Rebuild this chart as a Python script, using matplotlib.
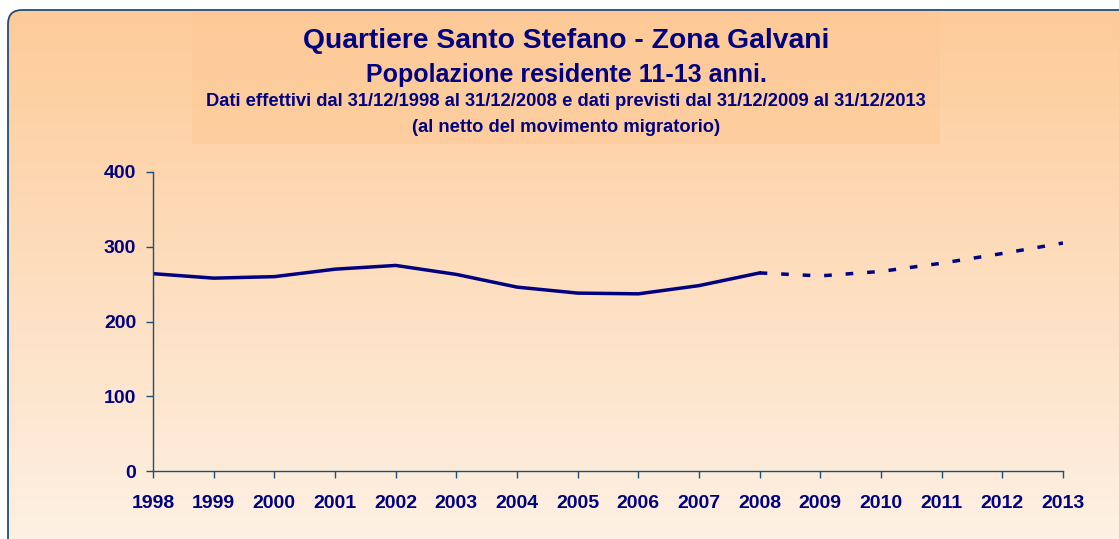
import numpy as np
import matplotlib.pyplot as plt
from matplotlib.patches import FancyBboxPatch, Rectangle

plt.rcParams['font.family'] = ['Liberation Sans', 'DejaVu Sans']

# dati effettivi e previsti
anni_eff = [1998, 1999, 2000, 2001, 2002, 2003, 2004, 2005, 2006, 2007, 2008]
pop_eff = [264, 258, 260, 270, 275, 263, 246, 238, 237, 248, 265]
anni_prev = [2008, 2009, 2010, 2011, 2012, 2013]
pop_prev = [265, 261, 267, 278, 291, 305]
yticks = [0, 100, 200, 300, 400]

navy = '#000080'
bordo = '#1F4E79'

fig = plt.figure(figsize=(11.19, 5.39), dpi=100)

# sfondo con sfumatura
bg = fig.add_axes([0, 0, 1, 1])
bg.set_xlim(0, 1119)
bg.set_ylim(539, 0)
bg.axis('off')
grad = np.linspace(0, 1, 256).reshape(-1, 1)
top = np.array([253, 203, 152]) / 255
bot = np.array([254, 241, 229]) / 255
img = top + grad[..., None] * (bot - top)
img = img.reshape(256, 1, 3)
im = bg.imshow(img, extent=[8, 1130, 545, 10], aspect='auto', zorder=0)
box = FancyBboxPatch((8, 10), 1140, 560, boxstyle='round,pad=0,rounding_size=14',
                     facecolor='none', edgecolor=bordo, lw=1.3, zorder=2)
bg.add_patch(box)
im.set_clip_path(box)
# riquadro del titolo
bg.add_patch(Rectangle((192, 10), 748, 134, facecolor='#FDC997', edgecolor='none',
                       alpha=0.55, zorder=1))

bg.text(566, 41, 'Quartiere Santo Stefano - Zona Galvani', ha='center', va='center',
        fontsize=20.3, fontweight='bold', color=navy)
bg.text(566, 75, 'Popolazione residente 11-13 anni.', ha='center', va='center',
        fontsize=18, fontweight='bold', color=navy)
bg.text(566, 102, 'Dati effettivi dal 31/12/1998 al 31/12/2008 e dati previsti dal 31/12/2009 al 31/12/2013',
        ha='center', va='center', fontsize=13.2, fontweight='bold', color=navy)
bg.text(566, 127, '(al netto del movimento migratorio)', ha='center', va='center',
        fontsize=13.2, fontweight='bold', color=navy)

ax = fig.add_axes([153 / 1119, 68 / 539, 910 / 1119, 299 / 539])
ax.patch.set_alpha(0)
ax.plot(anni_eff, pop_eff, color=navy, lw=2.5, solid_joinstyle='miter')
ax.plot(anni_prev, pop_prev, color=navy, lw=2.5, linestyle=(0, (2.2, 4.0)))

ax.set_xlim(1998, 2013)
ax.set_ylim(0, 400)
ax.set_xticks(anni_eff + anni_prev[1:])
ax.set_yticks(yticks)
for s in ['top', 'right']:
    ax.spines[s].set_visible(False)
for s in ['left', 'bottom']:
    ax.spines[s].set_color(bordo)
    ax.spines[s].set_linewidth(1)
ax.tick_params(colors=bordo, length=5, width=1, labelcolor=navy, labelsize=14)
ax.tick_params(axis='x', pad=12)
ax.tick_params(axis='y', pad=7)
for lab in ax.get_xticklabels() + ax.get_yticklabels():
    lab.set_fontweight('bold')

fig.savefig('out.png', dpi=100)
